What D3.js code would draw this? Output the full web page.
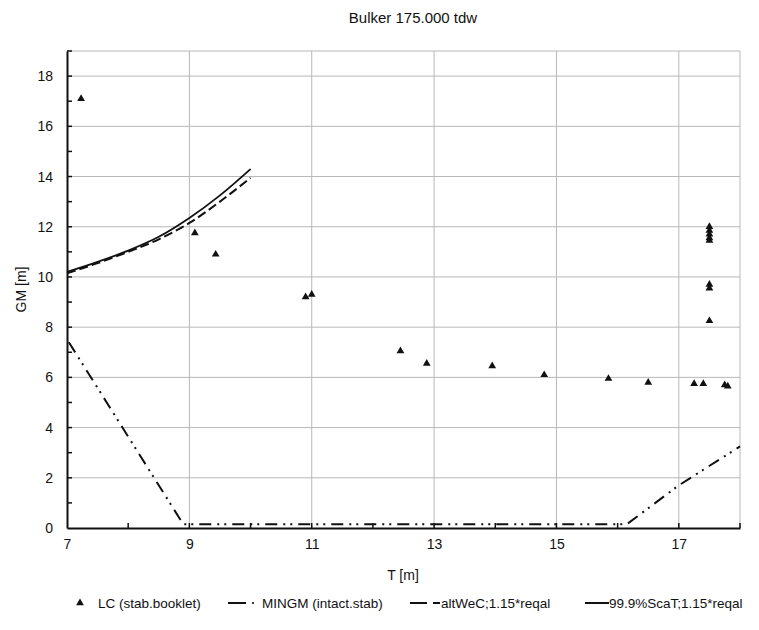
<!DOCTYPE html>
<html><head><meta charset="utf-8">
<script src="https://cdn.jsdelivr.net/npm/d3@7"></script>
<style>body{margin:0;background:#fff}svg{display:block}text{font-family:"Liberation Sans",Arial,sans-serif;fill:#111}</style>
</head><body>
<svg id="c" width="759" height="630"></svg>
<script>
const title = "Bulker 175.000 tdw";
const xTicks = [7, 9, 11, 13, 15, 17];
const yTicks = [0, 2, 4, 6, 8, 10, 12, 14, 16, 18];
// LC (stab.booklet) points
const lcT  = [7.23, 9.09, 9.43, 10.9, 11.0, 12.45, 12.88, 13.95, 14.8, 15.85, 16.5, 17.25, 17.4, 17.75, 17.8, 17.5, 17.5, 17.5, 17.5, 17.5, 17.5, 17.5, 17.5];
const lcGM = [17.1, 11.75, 10.9, 9.2, 9.3, 7.05, 6.55, 6.45, 6.1, 5.95, 5.8, 5.75, 5.75, 5.7, 5.65, 12.0, 11.85, 11.7, 11.55, 11.45, 9.7, 9.55, 8.25];
// MINGM (intact.stab)
const minT  = [7.03, 8.9, 16.15, 17.0, 18.0];
const minGM = [7.4, 0.15, 0.15, 1.7, 3.25];
// altWeC;1.15*reqal
const altT  = [7.0, 7.5, 8.0, 8.5, 9.0, 9.5, 10.0];
const altGM = [10.15, 10.55, 11.0, 11.5, 12.15, 13.0, 13.95];
// 99.9%ScaT;1.15*reqal
const scaT  = [7.0, 7.5, 8.0, 8.5, 9.0, 9.5, 10.0];
const scaGM = [10.2, 10.6, 11.05, 11.6, 12.35, 13.25, 14.3];

const svg = d3.select("#c");
const x = d3.scaleLinear().domain([7, 18]).range([67, 740]);
const y = d3.scaleLinear().domain([0, 19]).range([528, 51]);

// title
svg.append("text").attr("x", 413).attr("y", 23).attr("text-anchor", "middle")
  .style("font-size", "15px").text(title);

// grid
const g = svg.append("g");
g.selectAll(".gy").data(yTicks.filter(d => d > 0).concat([19])).enter().append("line")
  .attr("x1", x(7)).attr("x2", x(18)).attr("y1", d => y(d)).attr("y2", d => y(d))
  .attr("stroke", "#b8b8b8").attr("stroke-width", 1);
g.selectAll(".gx").data(xTicks.filter(d => d > 7).concat([18])).enter().append("line")
  .attr("x1", d => x(d)).attr("x2", d => x(d)).attr("y1", y(0)).attr("y2", y(19))
  .attr("stroke", "#b8b8b8").attr("stroke-width", 1);

// axes
const xAxis = d3.axisBottom(x).tickValues(xTicks).tickSize(0).tickPadding(11).tickFormat(d3.format("d"));
const gx = svg.append("g").attr("transform", `translate(0,${y(0)})`).call(xAxis);
gx.select(".domain").attr("stroke", "#111").attr("stroke-width", 2);
gx.selectAll("text").style("font-size", "14px").style("font-family", "Liberation Sans, Arial, sans-serif").attr("fill", "#111");
// x minor ticks (inside)
svg.append("g").selectAll("line").data(d3.range(8, 19, 1)).enter().append("line")
  .attr("x1", d => x(d)).attr("x2", d => x(d)).attr("y1", y(0)).attr("y2", y(0) - 5)
  .attr("stroke", "#111").attr("stroke-width", 1.5);

const yAxis = d3.axisLeft(y).tickValues(yTicks).tickSize(0).tickPadding(14).tickFormat(d3.format("d"));
const gy = svg.append("g").attr("transform", `translate(${x(7)},0)`).call(yAxis);
gy.select(".domain").attr("stroke", "#111").attr("stroke-width", 2);
gy.selectAll("text").style("font-size", "14px").style("font-family", "Liberation Sans, Arial, sans-serif").attr("fill", "#111");
svg.append("g").selectAll("line").data(d3.range(1, 20, 1)).enter().append("line")
  .attr("x1", x(7)).attr("x2", x(7) + 5).attr("y1", d => y(d)).attr("y2", d => y(d))
  .attr("stroke", "#111").attr("stroke-width", 1.5);

// axis titles
svg.append("text").attr("x", 403).attr("y", 580).attr("text-anchor", "middle")
  .style("font-size", "14px").text("T [m]");
svg.append("text").attr("transform", `translate(26,${y(9.5)}) rotate(-90)`).attr("text-anchor", "middle")
  .style("font-size", "14px").text("GM [m]");

// lines
const line = d3.line().x(d => x(d[0])).y(d => y(d[1]));
const minData = d3.zip(minT, minGM), altData = d3.zip(altT, altGM);
const scaData = d3.zip(scaT, scaGM);
const curved = d3.line().x(d => x(d[0])).y(d => y(d[1])).curve(d3.curveMonotoneX);
svg.append("path").datum(minData).attr("d", line).attr("fill", "none")
  .attr("stroke", "#111").attr("stroke-width", 2).attr("stroke-dasharray", "12,6,2,5,2,6");
svg.append("path").datum(altData).attr("d", curved).attr("fill", "none")
  .attr("stroke", "#111").attr("stroke-width", 2).attr("stroke-dasharray", "9,4");
svg.append("path").datum(scaData).attr("d", curved).attr("fill", "none")
  .attr("stroke", "#111").attr("stroke-width", 1.8);

// points
const tri = d3.symbol().type(d3.symbolTriangle).size(26);
svg.append("g").selectAll("path").data(d3.zip(lcT, lcGM)).enter().append("path")
  .attr("d", tri).attr("transform", d => `translate(${x(d[0])},${y(d[1])})`).attr("fill", "#111");

// legend
const ly = 603;
const lg = svg.append("g");
lg.append("path").attr("d", tri).attr("transform", `translate(80,${ly})`).attr("fill", "#111");
lg.append("text").attr("x", 98).attr("y", ly + 5).style("font-size", "13.5px").text("LC (stab.booklet)");
lg.append("line").attr("x1", 228).attr("x2", 246).attr("y1", ly).attr("y2", ly).attr("stroke", "#111").attr("stroke-width", 2);
lg.append("circle").attr("cx", 253).attr("cy", ly).attr("r", 1.1).attr("fill", "#111");
lg.append("text").attr("x", 262).attr("y", ly + 5).style("font-size", "13.5px").text("MINGM (intact.stab)");
lg.append("line").attr("x1", 410).attr("x2", 427).attr("y1", ly).attr("y2", ly).attr("stroke", "#111").attr("stroke-width", 2);
lg.append("line").attr("x1", 433).attr("x2", 440).attr("y1", ly).attr("y2", ly).attr("stroke", "#111").attr("stroke-width", 2);
lg.append("text").attr("x", 441).attr("y", ly + 5).style("font-size", "13.5px").text("altWeC;1.15*reqal");
lg.append("line").attr("x1", 585).attr("x2", 609).attr("y1", ly).attr("y2", ly).attr("stroke", "#111").attr("stroke-width", 2);
lg.append("text").attr("x", 609).attr("y", ly + 5).style("font-size", "13.5px").text("99.9%ScaT;1.15*reqal");
</script>
</body></html>
